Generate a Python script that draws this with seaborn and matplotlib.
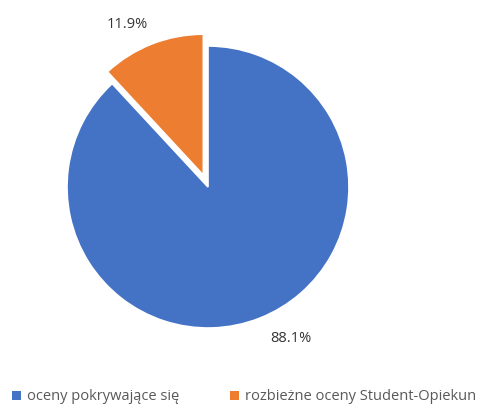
import matplotlib
matplotlib.use("Agg")
import matplotlib.pyplot as plt
import seaborn as sns
from matplotlib.patches import Patch

sns.set_theme(style="white")
plt.rcParams["font.family"] = ["Open Sans", "DejaVu Sans"]

categories = ["oceny pokrywające się", "rozbieżne oceny Student-Opiekun"]
shares = [88.1, 11.9]
colors = ["#4472C4", "#ED7D31"]
explode = [0.0, 0.09]

W, H = 484, 405
fig = plt.figure(figsize=(W / 100, H / 100), dpi=100)
ax = fig.add_axes([0, 0, 1, 1])

wedges, _ = ax.pie(
    shares,
    colors=colors,
    explode=explode,
    startangle=90,
    counterclock=False,
    wedgeprops=dict(edgecolor="white", linewidth=1.2),
)

# pixel-based frame: pie centre at (208, 187), radius 141 px
r_px, cx, cy = 141.0, 208.0, 187.0
ax.set_aspect("auto")
ax.set_xlim(-cx / r_px, (W - cx) / r_px)
ax.set_ylim(-(H - cy) / r_px, cy / r_px)
ax.axis("off")

label_pos = [(0.589, -1.071), (-0.574, 1.149)]
for v, (x, y) in zip(shares, label_pos):
    ax.text(x, y, f"{v:.1f}%", ha="center", va="center",
            fontsize=10.5, color="#333333")

handles = [Patch(facecolor=c, edgecolor="none") for c in colors]
fig.legend(
    handles, categories, ncol=2, loc="center left",
    bbox_to_anchor=(12 / W, 1 - 397 / H), frameon=False,
    fontsize=10.5, labelcolor="#595959",
    handlelength=0.6, handleheight=0.6, handletextpad=0.45,
    columnspacing=3.45, borderaxespad=0, borderpad=0,
)

fig.savefig("out.png", dpi=100)
